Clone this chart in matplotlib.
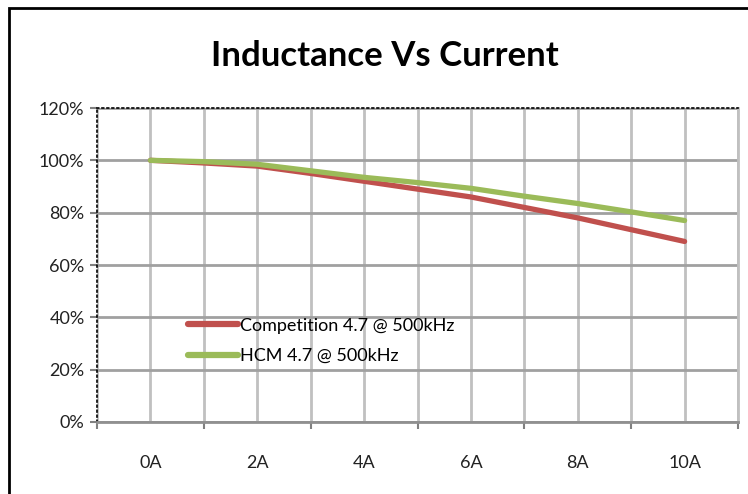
import matplotlib.pyplot as plt
from matplotlib.patches import Rectangle
from matplotlib.ticker import FixedLocator, PercentFormatter

# values (inductance in % vs current in A)
current = [0, 1, 2, 3, 4, 5, 6, 7, 8, 9, 10]
competition = [100, 99, 97.8, 95, 92, 89, 86, 82, 78, 73.5, 69]
hcm = [100, 99.5, 98.5, 96, 93.5, 91.5, 89.3, 86.3, 83.5, 80.3, 77]
label_pos = [0, 2, 4, 6, 8, 10]
label_txt = ["0A", "2A", "4A", "6A", "8A", "10A"]

plt.rcParams['font.family'] = ['Lato', 'DejaVu Sans']

fig = plt.figure(figsize=(7.48, 4.94), dpi=100)
ax = fig.add_axes([97 / 748, 1 - 422 / 494, 641 / 748, 314 / 494])

# outer chart border
fig.patches.append(Rectangle((9 / 748, -0.05), 1.0, 1 - 8 / 494 + 0.05,
                             transform=fig.transFigure, fill=False,
                             edgecolor='black', linewidth=2))

# grid
for x in range(-1, 12):
    ax.axvline(x, color='#c0c0c0', lw=2, zorder=1)
for y in range(0, 121, 20):
    ax.axhline(y, color='#a0a0a0', lw=2, zorder=1)

ax.plot(current, competition, color='#c0504d', lw=3.8, solid_capstyle='round',
        label='Competition 4.7 @ 500kHz', zorder=3)
ax.plot(current, hcm, color='#9bbb59', lw=3.8, solid_capstyle='round',
        label='HCM 4.7 @ 500kHz', zorder=4)

ax.set_xlim(-1, 11)
ax.set_ylim(0, 120)

ax.xaxis.set_major_locator(FixedLocator([-1, 1, 3, 5, 7, 9, 11]))
ax.xaxis.set_minor_locator(FixedLocator(label_pos))
ax.set_xticklabels([], minor=False)
ax.set_xticklabels(label_txt, minor=True)
ax.tick_params(axis='x', which='major', length=5, width=1.5, color='#808080',
               direction='out')
ax.tick_params(axis='x', which='minor', length=0, pad=24, labelsize=13,
               labelcolor='#222222')

ax.set_yticks(range(0, 121, 20))
ax.yaxis.set_major_formatter(PercentFormatter(decimals=0))
ax.tick_params(axis='y', length=5, width=1.5, color='#808080', pad=4,
               labelsize=13, labelcolor='#222222')

ax.spines['right'].set_color('#c0c0c0')
ax.spines['right'].set_linewidth(2)
ax.spines['bottom'].set_color('#909090')
ax.spines['bottom'].set_linewidth(2)
for s in ['left', 'top']:
    ax.spines[s].set_color('black')
    ax.spines[s].set_linestyle((0, (1, 2)))
    ax.spines[s].set_linewidth(1.2)

leg = ax.legend(loc='upper left', bbox_to_anchor=(0.13, 0.355), frameon=False,
                fontsize=13, handlelength=2.8, handletextpad=0.1,
                labelspacing=0.78, borderaxespad=0)
for h in leg.get_lines():
    h.set_linewidth(4.5)

fig.text(385 / 748, 1 - 56 / 494, 'Inductance Vs Current', ha='center',
         va='center', fontsize=25, fontweight='bold')

fig.savefig('out.png', dpi=100)
